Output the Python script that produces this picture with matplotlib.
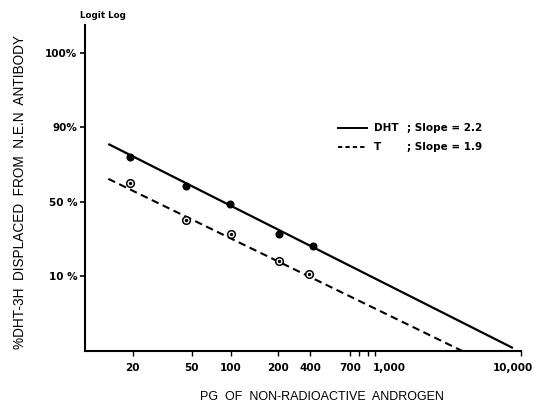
import numpy as np
import matplotlib
matplotlib.use("Agg")
import matplotlib.pyplot as plt
from matplotlib.transforms import ScaledTranslation

# ---------------- data ----------------
dht_x = [19, 46, 99, 206, 420]
dht_y = [74, 58.4, 48.6, 32.9, 26.2]
t_x = [19, 46, 100, 203, 395]
t_y = [59.9, 40.4, 33.0, 18.2, 11.2]

# fitted lines (end points)
dht_line_x = [13.5, 8800]
dht_line_y = [81, 0.4]
t_line_x = [13.5, 3960]
t_line_y = [62.3, 0.0]

x_ticks = [20, 50, 100, 200, 400, 700, 1000, 10000]
x_ticklabels = ["20", "50", "100", "200", "400", "700", "1,000", "10,000"]
x_minor = [800, 900]
y_ticks = [10, 50, 90, 100]
y_ticklabels = ["10 %", "50 %", "90%", "100%"]

series_names = ["DHT", "T"]
slopes = [2.2, 1.9]

# ---------------- hand-drawn axis scales ----------------
xa_log = np.log10([9.27, 20, 50, 100, 200, 400, 700, 1000, 10000])
xa_pos = np.array([85, 132.7, 191.7, 230.7, 278, 310, 350, 375, 521.0])
xa_log = np.concatenate([[-6], xa_log, [12]])
xa_pos = np.concatenate([[85 - (0.967 + 6) * 143], xa_pos, [521 + 8 * 145]])


def xf(x):
    x = np.clip(np.asarray(x, dtype=float), 1e-12, None)
    return np.interp(np.log10(x), xa_log, xa_pos)


def xi(p):
    return 10 ** np.interp(np.asarray(p, dtype=float), xa_pos, xa_log)


ya_pct = np.array([-1000, 0, 10, 50, 90, 100, 1000.0])
ya_pos = np.array([-101, -1, 0, 1, 2, 3, 93.0])


def yf(y):
    return np.interp(np.asarray(y, dtype=float), ya_pct, ya_pos)


def yi(p):
    return np.interp(np.asarray(p, dtype=float), ya_pos, ya_pct)


# ---------------- figure ----------------
W, H = 534, 408
fig = plt.figure(figsize=(W / 100, H / 100), dpi=100)
ax = fig.add_axes([85 / W, 57 / H, (521 - 85) / W, (351 - 25) / H])

ax.set_xscale("function", functions=(xf, xi))
ax.set_yscale("function", functions=(yf, yi))
ax.set_xlim(9.27, 10000)
ax.set_ylim(0, 103.7)

ax.plot(dht_line_x, dht_line_y, color="black", lw=1.6, solid_capstyle="butt")
ax.plot(t_line_x, t_line_y, color="black", lw=1.5,
        linestyle=(0, (3.6, 2.2)))

ax.plot(dht_x, dht_y, "o", ms=4.8, color="black", zorder=3)
ax.plot(t_x, t_y, "o", ms=5.5, mfc="white", mec="black", mew=1.1, zorder=3)
ax.plot(t_x, t_y, "o", ms=1.4, color="black", zorder=4)

for s in ["top", "right"]:
    ax.spines[s].set_visible(False)
for s in ["left", "bottom"]:
    ax.spines[s].set_linewidth(1.5)

tick_font = dict(family="DejaVu Sans", weight="bold", size=7.5)
ax.set_xticks(x_ticks)
ax.set_xticklabels(x_ticklabels, **tick_font)
ax.set_xticks(x_minor, minor=True)
ax.set_yticks(y_ticks)
ax.set_yticklabels(y_ticklabels, **tick_font)
ax.tick_params(axis="x", which="both", direction="out", length=3.5, width=1.0, pad=5)
ax.tick_params(axis="y", which="both", direction="out", length=3.5, width=1.2, pad=2)
ax.yaxis.set_minor_locator(matplotlib.ticker.NullLocator())

# shift the crowded right-hand labels like the original
labs = ax.get_xticklabels()
labs[6].set_horizontalalignment("left")
labs[6].set_transform(labs[6].get_transform()
                      + ScaledTranslation(-2 / 100, 0, fig.dpi_scale_trans))
labs[7].set_horizontalalignment("right")
labs[7].set_transform(labs[7].get_transform()
                      + ScaledTranslation(12 / 100, 0, fig.dpi_scale_trans))

fig.text(322 / W, (408 - 397) / H, "PG  OF  NON-RADIOACTIVE  ANDROGEN",
         family="Liberation Sans", size=9, ha="center", va="center")
fig.text(20 / W, (408 - 192) / H, "%DHT-3H  DISPLACED  FROM  N.E.N  ANTIBODY",
         rotation=90, ha="center", va="center", family="Liberation Sans", size=9.8)
fig.text(80 / W, (408 - 15) / H, "Logit Log", family="DejaVu Sans",
         weight="bold", size=6.3, ha="left", va="center")

# legend drawn by hand like the original
leg_y = [128.3, 146.7]
styles = ["-", (0, (2.2, 1.6))]
for name, slope, yy, ls in zip(series_names, slopes, leg_y, styles):
    fy = (408 - yy) / H
    fig.add_artist(matplotlib.lines.Line2D([338 / W, 367 / W], [fy, fy],
                                           color="black", lw=1.4, linestyle=ls))
    fig.text(374 / W, fy, name, family="DejaVu Sans", weight="bold",
             size=7.5, va="center", ha="left")
    fig.text(407 / W, fy, f"; Slope = {slope}", family="DejaVu Sans",
             weight="bold", size=7.5, va="center", ha="left")

fig.savefig("out.png", dpi=100)
